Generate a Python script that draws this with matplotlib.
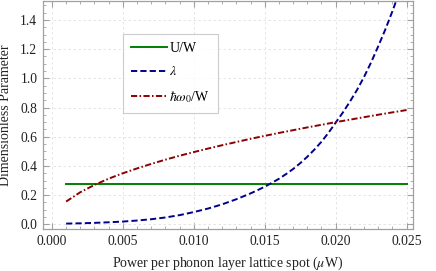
import matplotlib
matplotlib.use("Agg")
import matplotlib.pyplot as plt
from matplotlib.ticker import MultipleLocator, FormatStrFormatter

plt.rcParams['font.family'] = ['Liberation Serif', 'DejaVu Serif']
plt.rcParams['mathtext.fontset'] = 'stix'

power = [0.001, 0.002, 0.003, 0.004, 0.005, 0.006, 0.007, 0.008, 0.009, 0.010,
         0.011, 0.012, 0.013, 0.014, 0.015, 0.016, 0.017, 0.018, 0.019, 0.020,
         0.021, 0.022, 0.023, 0.024, 0.025]
u_over_w = [0.277] * len(power)
hw_over_w = [0.156, 0.22, 0.27, 0.313, 0.35, 0.383, 0.414, 0.443, 0.47, 0.495,
             0.519, 0.542, 0.564, 0.586, 0.606, 0.626, 0.645, 0.664, 0.682, 0.70,
             0.717, 0.734, 0.751, 0.767, 0.783]

lam_power = [0.001, 0.002, 0.003, 0.004, 0.005, 0.006, 0.007, 0.008, 0.009, 0.010,
             0.011, 0.012, 0.013, 0.014, 0.0145, 0.015, 0.0155, 0.016, 0.0165,
             0.017, 0.0175, 0.018, 0.0185, 0.019, 0.0195, 0.020, 0.0205, 0.021,
             0.0215, 0.022, 0.0225, 0.023, 0.0235, 0.024, 0.0245, 0.025]
lam = [0.005, 0.007, 0.010, 0.014, 0.019, 0.026, 0.035, 0.047, 0.063, 0.084,
       0.108, 0.137, 0.172, 0.212, 0.234, 0.258, 0.284, 0.312, 0.344,
       0.379, 0.419, 0.463, 0.512, 0.566, 0.628, 0.697, 0.765, 0.84,
       0.92, 1.01, 1.11, 1.22, 1.335, 1.46, 1.595, 1.74]

fig = plt.figure(figsize=(4.36, 2.71), dpi=100)
ax = fig.add_axes([43/436, 1 - 229/271, (413 - 43)/436, 228/271])

ax.plot(power, u_over_w, color='#008000', lw=1.4, label='U/W')
ax.plot(lam_power, lam, color='#00008B', lw=1.4, ls=(0, (3.2, 1.6)), label=r'$\lambda$')
ax.plot(power, hw_over_w, color='#8B0000', lw=1.4, ls=(0, (3.2, 1.2, 0.8, 1.2)),
        label=r'$\hbar\omega_0$/W')

ax.set_xlim(-0.00063, 0.02545)
ax.set_ylim(-0.032, 1.53)

ax.xaxis.set_major_locator(MultipleLocator(0.005))
ax.xaxis.set_minor_locator(MultipleLocator(0.001))
ax.yaxis.set_major_locator(MultipleLocator(0.2))
ax.yaxis.set_minor_locator(MultipleLocator(0.05))
ax.xaxis.set_major_formatter(FormatStrFormatter('%.3f'))
ax.yaxis.set_major_formatter(FormatStrFormatter('%.1f'))

ax.grid(True, which='major', color='#e0e0e0', ls=(0, (3, 3)), lw=0.6)
ax.set_axisbelow(True)
frame_c = '#a0a0a0'
for s in ax.spines.values():
    s.set_color(frame_c)
    s.set_linewidth(0.9)
ax.tick_params(which='both', direction='in', top=True, right=True, color=frame_c,
               labelsize=9.8, labelcolor='#222222', pad=4)
ax.tick_params(which='major', length=4.5, width=0.8)
ax.tick_params(which='minor', length=2.5, width=0.6)

ax.set_xlabel(r'Power per phonon layer lattice spot ($\mu$W)', fontsize=10, color='#222222', labelpad=5)
ax.set_ylabel('Dimensionless Parameter', fontsize=10, color='#222222', labelpad=6)

leg = ax.legend(loc='upper left', bbox_to_anchor=((122.7 - 43)/370, 1 - 32.7/228),
                frameon=True, fancybox=False, fontsize=10, handlelength=2.6,
                handletextpad=0.15, labelspacing=0.75, borderpad=0.6,
                borderaxespad=0)
leg.get_frame().set_edgecolor('#c0c0c0')
leg.get_frame().set_linewidth(0.8)

fig.savefig('out.png', dpi=100)
